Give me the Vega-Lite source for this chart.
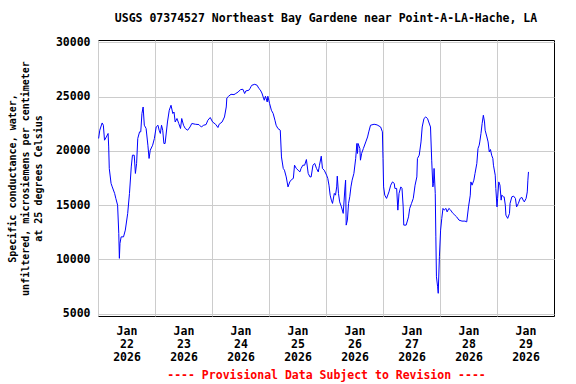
{
"$schema":"https://vega.github.io/schema/vega-lite/v6.json",
"autosize":"none",
"width":456,"height":276,
"padding":{"left":98,"top":40,"right":22,"bottom":68},
"background":"white",
"config":{"view":{"stroke":"black","strokeWidth":1},"font":"DejaVu Sans Mono"},
"title":{"text":"USGS 07374527 Northeast Bay Gardene near Point-A-LA-Hache, LA","font":"DejaVu Sans Mono","fontSize":11.5,"fontWeight":"bold","color":"black","anchor":"middle","frame":"group","offset":12},
"data":{"values":[
{"t":"2026-01-22T00:15Z","v":21140},{"t":"2026-01-22T00:45Z","v":21900},{"t":"2026-01-22T01:45Z","v":22570},{"t":"2026-01-22T02:15Z","v":22360},{"t":"2026-01-22T02:45Z","v":20980},{"t":"2026-01-22T03:30Z","v":21280},{"t":"2026-01-22T04:15Z","v":21600},{"t":"2026-01-22T04:30Z","v":20360},{"t":"2026-01-22T04:45Z","v":18380},{"t":"2026-01-22T05:30Z","v":17000},{"t":"2026-01-22T06:00Z","v":16680},{"t":"2026-01-22T07:00Z","v":16080},{"t":"2026-01-22T07:30Z","v":15620},{"t":"2026-01-22T08:15Z","v":15000},{"t":"2026-01-22T08:45Z","v":12400},{"t":"2026-01-22T09:00Z","v":10100},{"t":"2026-01-22T09:15Z","v":11480},{"t":"2026-01-22T09:45Z","v":12080},{"t":"2026-01-22T10:45Z","v":12080},{"t":"2026-01-22T11:30Z","v":12700},{"t":"2026-01-22T12:30Z","v":14240},{"t":"2026-01-22T13:15Z","v":16080},{"t":"2026-01-22T14:00Z","v":18520},{"t":"2026-01-22T14:30Z","v":19600},{"t":"2026-01-22T15:15Z","v":19600},{"t":"2026-01-22T15:45Z","v":17920},{"t":"2026-01-22T16:15Z","v":18840},{"t":"2026-01-22T16:45Z","v":21140},{"t":"2026-01-22T17:30Z","v":21750},{"t":"2026-01-22T18:00Z","v":21750},{"t":"2026-01-22T18:30Z","v":23440},{"t":"2026-01-22T19:00Z","v":24040},{"t":"2026-01-22T19:30Z","v":22360},{"t":"2026-01-22T20:15Z","v":22060},{"t":"2026-01-22T21:00Z","v":20520},{"t":"2026-01-22T21:30Z","v":19300},{"t":"2026-01-22T22:00Z","v":20060},{"t":"2026-01-22T23:00Z","v":20520},{"t":"2026-01-22T23:45Z","v":21140},
{"t":"2026-01-23T00:30Z","v":22200},{"t":"2026-01-23T01:15Z","v":22360},{"t":"2026-01-23T01:45Z","v":21900},{"t":"2026-01-23T02:15Z","v":21600},{"t":"2026-01-23T02:45Z","v":22360},{"t":"2026-01-23T03:15Z","v":21900},{"t":"2026-01-23T03:45Z","v":20680},{"t":"2026-01-23T04:15Z","v":20680},{"t":"2026-01-23T05:15Z","v":22660},{"t":"2026-01-23T06:00Z","v":23740},{"t":"2026-01-23T06:45Z","v":24200},{"t":"2026-01-23T07:30Z","v":23440},{"t":"2026-01-23T08:00Z","v":23580},{"t":"2026-01-23T08:30Z","v":22660},{"t":"2026-01-23T09:15Z","v":22980},{"t":"2026-01-23T10:00Z","v":22520},{"t":"2026-01-23T10:45Z","v":22060},{"t":"2026-01-23T11:15Z","v":22980},{"t":"2026-01-23T12:00Z","v":22360},{"t":"2026-01-23T12:45Z","v":22060},{"t":"2026-01-23T13:45Z","v":21900},{"t":"2026-01-23T14:45Z","v":22200},{"t":"2026-01-23T15:30Z","v":22520},{"t":"2026-01-23T17:00Z","v":22450},{"t":"2026-01-23T18:30Z","v":22420},{"t":"2026-01-23T19:30Z","v":22200},{"t":"2026-01-23T20:30Z","v":22360},{"t":"2026-01-23T21:30Z","v":22420},{"t":"2026-01-23T22:15Z","v":22820},{"t":"2026-01-23T23:15Z","v":23070},
{"t":"2026-01-24T00:15Z","v":22660},{"t":"2026-01-24T01:30Z","v":22450},{"t":"2026-01-24T02:30Z","v":22150},{"t":"2026-01-24T03:00Z","v":22450},{"t":"2026-01-24T04:15Z","v":22660},{"t":"2026-01-24T05:15Z","v":23120},{"t":"2026-01-24T06:00Z","v":24040},{"t":"2026-01-24T06:15Z","v":24870},{"t":"2026-01-24T07:00Z","v":25030},{"t":"2026-01-24T08:00Z","v":25210},{"t":"2026-01-24T09:15Z","v":25180},{"t":"2026-01-24T10:00Z","v":25280},{"t":"2026-01-24T11:00Z","v":25420},{"t":"2026-01-24T12:00Z","v":25640},{"t":"2026-01-24T13:00Z","v":25670},{"t":"2026-01-24T13:45Z","v":25280},{"t":"2026-01-24T14:15Z","v":25520},{"t":"2026-01-24T15:30Z","v":25580},{"t":"2026-01-24T16:00Z","v":25740},{"t":"2026-01-24T16:30Z","v":25950},{"t":"2026-01-24T16:45Z","v":26040},{"t":"2026-01-24T18:00Z","v":26130},{"t":"2026-01-24T19:00Z","v":26040},{"t":"2026-01-24T19:45Z","v":25740},{"t":"2026-01-24T20:15Z","v":25640},{"t":"2026-01-24T21:00Z","v":25330},{"t":"2026-01-24T22:00Z","v":24660},{"t":"2026-01-24T22:30Z","v":25030},{"t":"2026-01-24T23:15Z","v":24500},{"t":"2026-01-24T23:30Z","v":25030},
{"t":"2026-01-25T00:15Z","v":24360},{"t":"2026-01-25T01:00Z","v":23740},{"t":"2026-01-25T01:45Z","v":23440},{"t":"2026-01-25T02:30Z","v":22820},{"t":"2026-01-25T03:00Z","v":22360},{"t":"2026-01-25T03:45Z","v":22060},{"t":"2026-01-25T04:45Z","v":21900},{"t":"2026-01-25T05:15Z","v":19440},{"t":"2026-01-25T06:00Z","v":18380},{"t":"2026-01-25T06:30Z","v":18220},{"t":"2026-01-25T07:15Z","v":17600},{"t":"2026-01-25T08:00Z","v":16680},{"t":"2026-01-25T08:45Z","v":17140},{"t":"2026-01-25T09:30Z","v":17360},{"t":"2026-01-25T10:15Z","v":17460},{"t":"2026-01-25T10:45Z","v":18680},{"t":"2026-01-25T11:30Z","v":18380},{"t":"2026-01-25T12:15Z","v":18220},{"t":"2026-01-25T13:00Z","v":18060},{"t":"2026-01-25T13:30Z","v":18380},{"t":"2026-01-25T14:15Z","v":18680},{"t":"2026-01-25T15:00Z","v":18680},{"t":"2026-01-25T15:45Z","v":19200},{"t":"2026-01-25T16:30Z","v":17920},{"t":"2026-01-25T17:15Z","v":17600},{"t":"2026-01-25T17:45Z","v":17600},{"t":"2026-01-25T18:30Z","v":18680},{"t":"2026-01-25T19:15Z","v":18840},{"t":"2026-01-25T20:00Z","v":18380},{"t":"2026-01-25T20:45Z","v":18060},{"t":"2026-01-25T21:15Z","v":18680},{"t":"2026-01-25T22:00Z","v":19510},{"t":"2026-01-25T22:30Z","v":18380},{"t":"2026-01-25T23:15Z","v":18220},
{"t":"2026-01-26T00:15Z","v":17760},{"t":"2026-01-26T00:45Z","v":17460},{"t":"2026-01-26T01:15Z","v":16840},{"t":"2026-01-26T01:45Z","v":15920},{"t":"2026-01-26T02:15Z","v":15460},{"t":"2026-01-26T02:45Z","v":15160},{"t":"2026-01-26T03:30Z","v":16080},{"t":"2026-01-26T04:00Z","v":15920},{"t":"2026-01-26T04:30Z","v":16680},{"t":"2026-01-26T04:45Z","v":17670},{"t":"2026-01-26T05:15Z","v":16080},{"t":"2026-01-26T05:45Z","v":15300},{"t":"2026-01-26T06:30Z","v":14840},{"t":"2026-01-26T07:15Z","v":14240},{"t":"2026-01-26T08:00Z","v":16680},{"t":"2026-01-26T08:15Z","v":17300},{"t":"2026-01-26T08:30Z","v":13160},{"t":"2026-01-26T09:00Z","v":13620},{"t":"2026-01-26T09:30Z","v":15160},{"t":"2026-01-26T10:00Z","v":15770},{"t":"2026-01-26T10:30Z","v":16680},{"t":"2026-01-26T11:00Z","v":17300},{"t":"2026-01-26T11:45Z","v":17920},{"t":"2026-01-26T12:30Z","v":19300},{"t":"2026-01-26T13:00Z","v":20680},{"t":"2026-01-26T13:15Z","v":19760},{"t":"2026-01-26T13:30Z","v":20680},{"t":"2026-01-26T14:15Z","v":20220},{"t":"2026-01-26T14:30Z","v":19140},{"t":"2026-01-26T15:00Z","v":19760},{"t":"2026-01-26T15:45Z","v":20220},{"t":"2026-01-26T16:45Z","v":20820},{"t":"2026-01-26T17:30Z","v":21280},{"t":"2026-01-26T18:00Z","v":21750},{"t":"2026-01-26T18:45Z","v":22360},{"t":"2026-01-26T20:15Z","v":22450},{"t":"2026-01-26T21:30Z","v":22390},{"t":"2026-01-26T23:00Z","v":22200},{"t":"2026-01-26T23:45Z","v":21750},
{"t":"2026-01-27T00:00Z","v":19300},{"t":"2026-01-27T00:15Z","v":16680},{"t":"2026-01-27T00:45Z","v":15920},{"t":"2026-01-27T01:30Z","v":15620},{"t":"2026-01-27T02:30Z","v":16220},{"t":"2026-01-27T03:15Z","v":16840},{"t":"2026-01-27T04:00Z","v":17140},{"t":"2026-01-27T04:45Z","v":17000},{"t":"2026-01-27T05:00Z","v":16540},{"t":"2026-01-27T05:45Z","v":16540},{"t":"2026-01-27T06:15Z","v":14540},{"t":"2026-01-27T06:45Z","v":16080},{"t":"2026-01-27T07:30Z","v":16680},{"t":"2026-01-27T08:00Z","v":16540},{"t":"2026-01-27T08:30Z","v":14840},{"t":"2026-01-27T08:45Z","v":13160},{"t":"2026-01-27T09:45Z","v":13160},{"t":"2026-01-27T10:45Z","v":13920},{"t":"2026-01-27T11:15Z","v":14700},{"t":"2026-01-27T12:00Z","v":15160},{"t":"2026-01-27T12:45Z","v":15620},{"t":"2026-01-27T13:30Z","v":16840},{"t":"2026-01-27T14:15Z","v":17600},{"t":"2026-01-27T14:30Z","v":19300},{"t":"2026-01-27T15:15Z","v":19600},{"t":"2026-01-27T16:00Z","v":20820},{"t":"2026-01-27T16:30Z","v":22200},{"t":"2026-01-27T17:15Z","v":22980},{"t":"2026-01-27T18:00Z","v":23120},{"t":"2026-01-27T18:45Z","v":22980},{"t":"2026-01-27T19:15Z","v":22660},{"t":"2026-01-27T20:00Z","v":22200},{"t":"2026-01-27T20:30Z","v":19140},{"t":"2026-01-27T21:00Z","v":16680},{"t":"2026-01-27T21:15Z","v":17000},{"t":"2026-01-27T21:30Z","v":18380},{"t":"2026-01-27T22:00Z","v":16080},{"t":"2026-01-27T22:15Z","v":12080},{"t":"2026-01-27T22:30Z","v":8400},{"t":"2026-01-27T23:00Z","v":7480},{"t":"2026-01-27T23:15Z","v":6880},{"t":"2026-01-27T23:45Z","v":10240},
{"t":"2026-01-28T00:15Z","v":12700},{"t":"2026-01-28T00:45Z","v":13780},{"t":"2026-01-28T01:15Z","v":14700},{"t":"2026-01-28T01:45Z","v":14540},{"t":"2026-01-28T02:30Z","v":14700},{"t":"2026-01-28T03:00Z","v":14380},{"t":"2026-01-28T03:45Z","v":14700},{"t":"2026-01-28T04:30Z","v":14540},{"t":"2026-01-28T05:15Z","v":14290},{"t":"2026-01-28T06:15Z","v":14080},{"t":"2026-01-28T07:00Z","v":13920},{"t":"2026-01-28T08:00Z","v":13620},{"t":"2026-01-28T09:15Z","v":13530},{"t":"2026-01-28T10:30Z","v":13530},{"t":"2026-01-28T11:15Z","v":13460},{"t":"2026-01-28T12:00Z","v":14840},{"t":"2026-01-28T12:45Z","v":15920},{"t":"2026-01-28T13:00Z","v":17140},{"t":"2026-01-28T13:30Z","v":16840},{"t":"2026-01-28T14:15Z","v":17300},{"t":"2026-01-28T14:45Z","v":17920},{"t":"2026-01-28T15:30Z","v":18840},{"t":"2026-01-28T16:00Z","v":20220},{"t":"2026-01-28T16:30Z","v":20520},{"t":"2026-01-28T16:45Z","v":20820},{"t":"2026-01-28T17:15Z","v":21600},{"t":"2026-01-28T17:45Z","v":22520},{"t":"2026-01-28T18:15Z","v":23280},{"t":"2026-01-28T18:45Z","v":22660},{"t":"2026-01-28T19:00Z","v":21900},{"t":"2026-01-28T19:45Z","v":21280},{"t":"2026-01-28T20:15Z","v":20820},{"t":"2026-01-28T20:45Z","v":19900},{"t":"2026-01-28T21:15Z","v":20120},{"t":"2026-01-28T21:45Z","v":19600},{"t":"2026-01-28T22:15Z","v":19300},{"t":"2026-01-28T22:30Z","v":18680},{"t":"2026-01-28T23:15Z","v":17760},{"t":"2026-01-28T23:30Z","v":16540},
{"t":"2026-01-29T00:00Z","v":14840},{"t":"2026-01-29T00:15Z","v":15620},{"t":"2026-01-29T00:45Z","v":17140},{"t":"2026-01-29T01:15Z","v":16840},{"t":"2026-01-29T01:45Z","v":15460},{"t":"2026-01-29T02:00Z","v":15920},{"t":"2026-01-29T02:45Z","v":15770},{"t":"2026-01-29T03:00Z","v":15770},{"t":"2026-01-29T03:30Z","v":15000},{"t":"2026-01-29T03:45Z","v":14080},{"t":"2026-01-29T04:30Z","v":13780},{"t":"2026-01-29T05:15Z","v":14240},{"t":"2026-01-29T05:30Z","v":15160},{"t":"2026-01-29T06:15Z","v":15770},{"t":"2026-01-29T07:00Z","v":15830},{"t":"2026-01-29T07:45Z","v":15620},{"t":"2026-01-29T08:15Z","v":14840},{"t":"2026-01-29T09:00Z","v":15160},{"t":"2026-01-29T09:45Z","v":15620},{"t":"2026-01-29T10:30Z","v":15710},{"t":"2026-01-29T11:00Z","v":15460},{"t":"2026-01-29T11:30Z","v":15300},{"t":"2026-01-29T12:15Z","v":15620},{"t":"2026-01-29T12:45Z","v":16220},{"t":"2026-01-29T13:00Z","v":17300},{"t":"2026-01-29T13:15Z","v":18060}
]},
"mark":{"type":"line","color":"#0000ff","strokeWidth":1,"clip":true},
"encoding":{
"x":{"field":"t","type":"temporal",
"scale":{"type":"utc","domain":[{"year":2026,"month":1,"date":22,"utc":true},{"year":2026,"month":1,"date":30,"utc":true}]},
"axis":{"values":[{"year":2026,"month":1,"date":22,"utc":true},{"year":2026,"month":1,"date":23,"utc":true},{"year":2026,"month":1,"date":24,"utc":true},{"year":2026,"month":1,"date":25,"utc":true},{"year":2026,"month":1,"date":26,"utc":true},{"year":2026,"month":1,"date":27,"utc":true},{"year":2026,"month":1,"date":28,"utc":true},{"year":2026,"month":1,"date":29,"utc":true}],
"labelExpr":"[utcFormat(datum.value,'%b'),utcFormat(datum.value,'%d'),utcFormat(datum.value,'%Y')]",
"grid":true,"gridColor":"#cccccc","gridWidth":1,"ticks":false,"domain":false,
"labelOffset":28.5,"labelAlign":"center","labelBaseline":"top","labelPadding":9,"labelLineHeight":13,"labelOverlap":false,"labelFlush":false,"labelBound":false,
"labelFont":"DejaVu Sans Mono","labelFontSize":11.5,"labelFontWeight":"bold","labelColor":"black",
"title":"---- Provisional Data Subject to Revision ----","titleColor":"#ff0000","titleFont":"DejaVu Sans Mono","titleFontSize":11.5,"titleFontWeight":"bold","titlePadding":7}},
"y":{"field":"v","type":"quantitative",
"scale":{"domain":[4790,30210],"nice":false,"zero":false},
"axis":{"values":[5000,10000,15000,20000,25000,30000],"format":"d","grid":true,"gridColor":"#cccccc","gridWidth":1,"ticks":false,"domain":false,
"labelPadding":8,"labelFont":"DejaVu Sans Mono","labelFontSize":11.5,"labelFontWeight":"bold","labelColor":"black",
"title":["Specific conductance, water,","unfiltered, microsiemens per centimeter","at 25 degrees Celsius"],"titleFont":"DejaVu Sans Mono","titleFontSize":10,"titleFontWeight":"bold","titleColor":"black","titleLineHeight":13,"titlePadding":12}}
}
}
